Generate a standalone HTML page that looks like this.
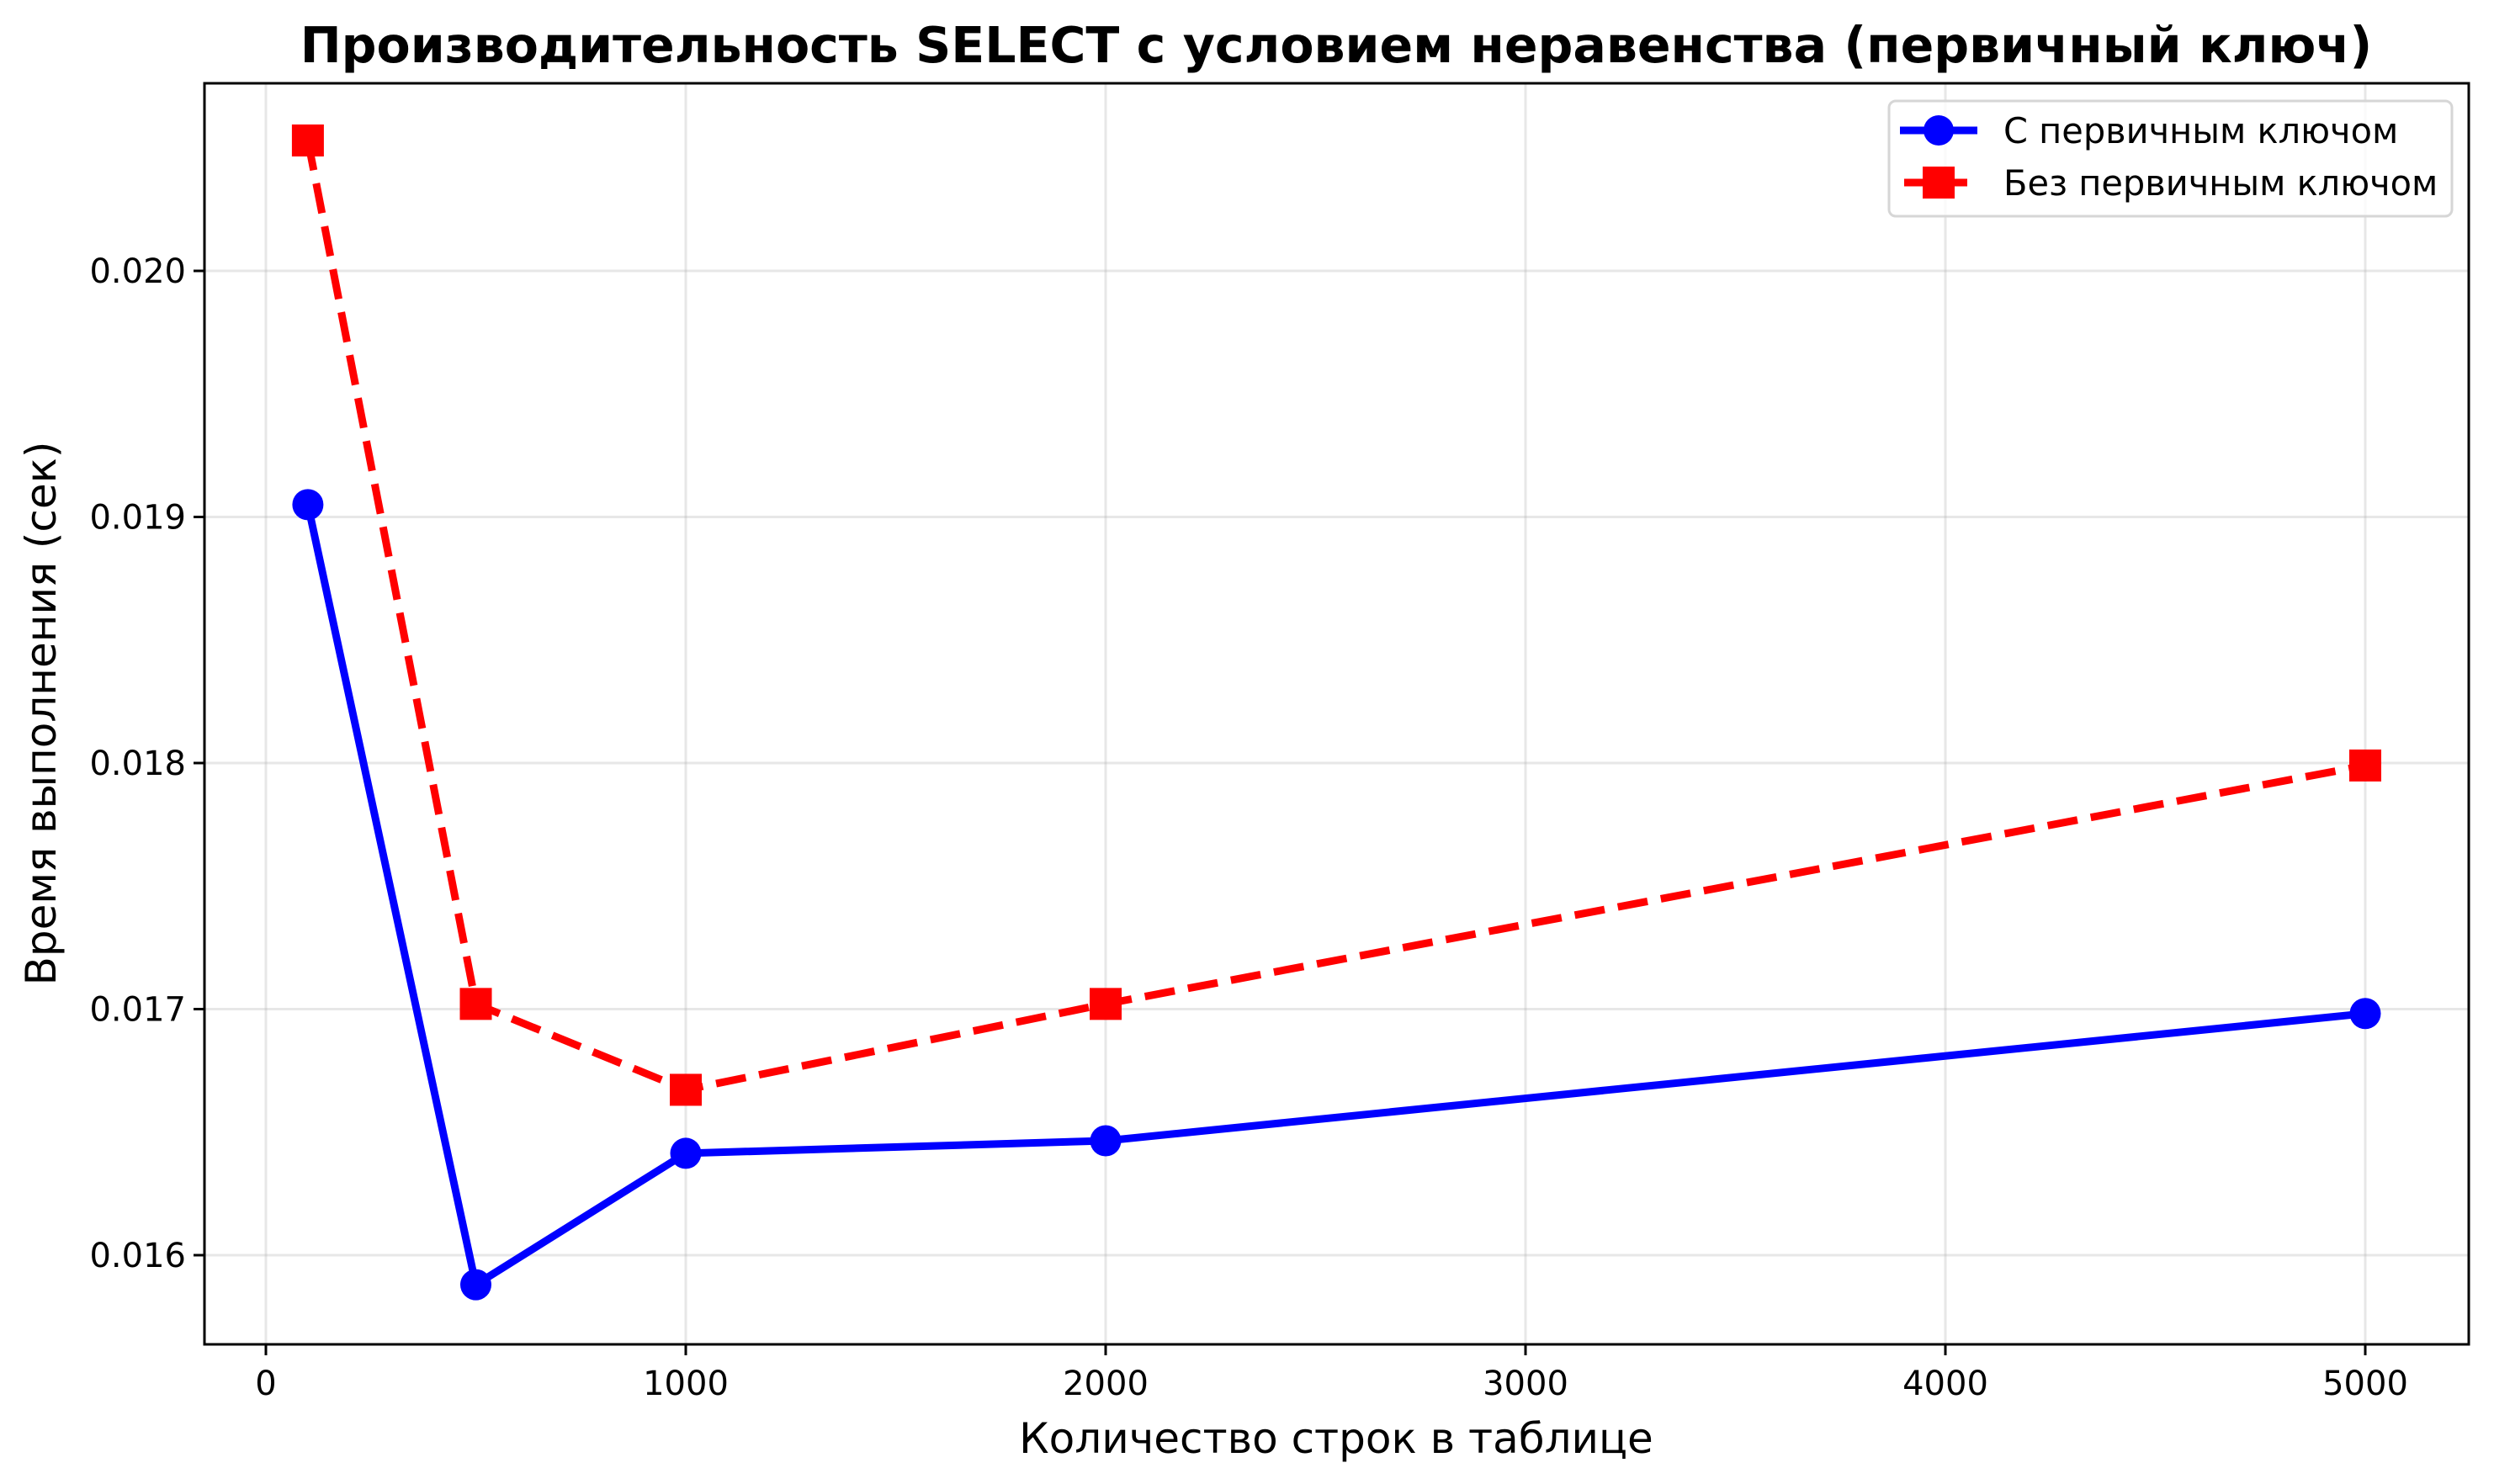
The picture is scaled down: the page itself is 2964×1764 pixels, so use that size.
<!DOCTYPE html>
<html><head><meta charset="utf-8"><style>
body{margin:0;background:#fff}
svg{display:block;font-family:"DejaVu Sans","Liberation Sans",sans-serif}
</style></head><body>
<svg id="chart" width="2964" height="1764" viewBox="0 0 2964 1764" xmlns="http://www.w3.org/2000/svg">
<rect width="2964" height="1764" fill="#fff"/>
<text x="1588" y="74" text-anchor="middle" font-size="58.5" font-weight="bold">Производительность SELECT с условием неравенства (первичный ключ)</text>
<g id="grid"></g>
<g id="ticks"></g>
<g id="series"></g>
<rect x="243" y="99" width="2691" height="1499" fill="none" stroke="#000" stroke-width="3"/>
<text x="1588" y="1727" text-anchor="middle" font-size="50">Количество строк в таблице</text>
<text transform="translate(66,848) rotate(-90)" text-anchor="middle" font-size="50">Время выполнения (сек)</text>
<g>
<rect x="2245" y="120" width="669" height="137" rx="8" fill="#fff" fill-opacity="0.8" stroke="#d6d6d6" stroke-width="3"/>
<g>
<line x1="2258" y1="155" x2="2350" y2="155" stroke="#0000ff" stroke-width="9"/>
<circle cx="2304" cy="155" r="18" fill="#0000ff"/>
<text x="2381" y="170" font-size="41.5">С первичным ключом</text>
</g>
<g>
<line x1="2263" y1="217" x2="2338" y2="217" stroke="#ff0000" stroke-width="9"/>
<rect x="2285" y="198" width="38" height="38" fill="#ff0000"/>
<text x="2381" y="232" font-size="41.5">Без первичным ключом</text>
</g>
</g>
</svg>
<script>
const categories = [100, 500, 1000, 2000, 5000];
const withPk = [0.01905, 0.01588, 0.016414, 0.016465, 0.016982];
const withoutPk = [0.02053, 0.017021, 0.016672, 0.017021, 0.01799];
const xTicks = [0, 1000, 2000, 3000, 4000, 5000];
const yTicks = [0.016, 0.017, 0.018, 0.019, 0.020];

const NS = "http://www.w3.org/2000/svg";
const L = 243, R = 2934, T = 99, B = 1598;
function xs(v){ return 316 + v * 0.499; }
function ys(v){ return 322 + (0.020 - v) * 292500; }
function mk(tag, attrs, parent){
  const e = document.createElementNS(NS, tag);
  for (const k in attrs) e.setAttribute(k, attrs[k]);
  parent.appendChild(e); return e;
}
const grid = document.getElementById('grid'), ticks = document.getElementById('ticks'), series = document.getElementById('series');
xTicks.forEach(t => {
  const x = xs(t);
  const g = mk('line', {x1:x, x2:x, y1:T, y2:B, stroke:'#b0b0b0', 'stroke-opacity':0.3, 'stroke-width':3}, grid);
  
  
  mk('line', {x1:x, x2:x, y1:B, y2:B+13, stroke:'#000', 'stroke-width':3}, ticks);
  const tx = mk('text', {x:x, y:1658, 'text-anchor':'middle', 'font-size':40}, ticks);
  tx.textContent = t;
  
  
});
yTicks.forEach(t => {
  const y = ys(t);
  const g = mk('line', {x1:L, x2:R, y1:y, y2:y, stroke:'#b0b0b0', 'stroke-opacity':0.3, 'stroke-width':3}, grid);
  
  
  mk('line', {x1:L-13, x2:L, y1:y, y2:y, stroke:'#000', 'stroke-width':3}, ticks);
  const tx = mk('text', {x:L-22, y:y+14, 'text-anchor':'end', 'font-size':40}, ticks);
  tx.textContent = t.toFixed(3);
  
  
});
function pts(vals){ return categories.map((c,i) => xs(c) + ',' + ys(vals[i])).join(' '); }
const l2 = mk('polyline', {points:pts(withoutPk), fill:'none', stroke:'#ff0000', 'stroke-width':9, 'stroke-dasharray':'36,16'}, series);


const l1 = mk('polyline', {points:pts(withPk), fill:'none', stroke:'#0000ff', 'stroke-width':9}, series);


categories.forEach((c,i) => {
  const s = mk('rect', {x:xs(c)-19, y:ys(withoutPk[i])-19, width:38, height:38, fill:'#ff0000'}, series);
  
  
  const p = mk('circle', {cx:xs(c), cy:ys(withPk[i]), r:18.5, fill:'#0000ff'}, series);
  
  
});
</script>
</body></html>
